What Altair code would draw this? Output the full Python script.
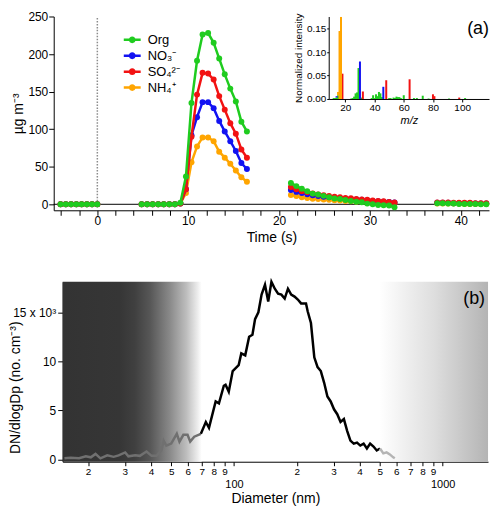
import altair as alt
import pandas as pd

FONT = "Liberation Sans"

# ---------------- Panel (a): time series ----------------
SPECIES = ["Org", "NO₃⁻", "SO₄²⁻", "NH₄⁺"]
COLORS = ["#1fcc1f", "#1212f2", "#f21212", "#ffa500"]

T1 = [-4.05, -3.47, -2.89, -2.31, -1.73, -1.15, -0.58, 0.0]
T2 = [4.87, 5.48, 6.09, 6.70, 7.31, 7.92, 8.53, 9.14, 9.75, 10.36, 10.97, 11.58,
      12.19, 12.80, 13.41, 14.02, 14.63, 15.24, 15.85, 16.46]
T3 = [21.3, 21.9, 22.5, 23.1, 23.7, 24.3, 24.9, 25.5, 26.1, 26.7, 27.3, 27.9,
      28.5, 29.1, 29.7, 30.3, 30.9, 31.5, 32.1, 32.7]
T4 = [37.4, 38.0, 38.6, 39.2, 39.8, 40.4, 41.0, 41.6, 42.2, 42.8]

ORG_1 = [0, 0, 0, 0, 0, 0, 0, 0]
ORG_2 = [0, 0, 0, 0, 0, 0, 0, 2, 37, 135, 191, 226, 228, 215, 194, 173, 154, 137, 110, 97]
ORG_3 = [28.5, 24.2, 20.7, 17.3, 14.2, 13, 11.2, 9.5, 7.8, 6.9, 5.6, 4.3, 3.5, 2.6, 0.9, 0, -0.9, -1.3, -1.7, -3.9]
ORG_4 = [1.5, 1.5, 1, 1, 0.5, 0.5, 0.5, 0.5, 0, 0]

NO3_1 = [0, 0, 0, 0, 0, 0, 0, 0]
NO3_2 = [0, 0, 0, 0, 0, 0, 0, 1, 20, 92, 116, 136, 136, 128, 111, 97, 84, 71, 55, 47]
NO3_3 = [19, 16.5, 15, 13.5, 12, 11, 10, 9.5, 9, 8, 7.5, 7, 6.5, 6, 5, 4.5, 4, 3.5, 3, 2.5]
NO3_4 = [2, 2, 2, 1.5, 1.5, 1.5, 1.5, 1, 1, 1]

SO4_1 = [0, 0, 0, 0, 0, 0, 0, 0]
SO4_2 = [0, 0, 0, 0, 0, 0, 0, 1, 20, 90, 146, 175, 174, 166, 144, 126, 108, 94, 73, 62]
SO4_3 = [23, 20, 17.5, 16, 14.5, 13, 12, 11, 10, 9.5, 8.5, 8, 7, 6.5, 6, 5, 4.5, 4, 3, 2.5]
SO4_4 = [2.5, 2.5, 2.5, 2, 2, 2, 2, 1.5, 1.5, 1.5]

NH4_1 = [0, 0, 0, 0, 0, 0, 0, 0]
NH4_2 = [0, 0, 0, 0, 0, 0, 0, 1, 15, 56, 77, 89, 89, 84, 70, 62, 54, 45, 36, 30]
NH4_3 = [12.5, 11, 9.5, 8.5, 7.5, 7, 6.5, 6, 5.5, 5, 4.5, 4, 3.5, 3.5, 3, 2.5, 2, 2, 1.5, 1.3]
NH4_4 = [1, 1, 1, 1, 1, 0.5, 0.5, 0.5, 0.5, 0.5]

# inset mass spectrum (m/z, normalized intensity)
MZ_ORG = [12, 13, 14, 15, 24, 25, 26, 27, 28, 29, 31, 38, 39, 40, 41, 42, 43, 44, 45,
          50, 51, 53, 54, 55, 56, 57, 58, 60, 67, 69, 73, 77, 91, 102]
I_ORG = [0.002, 0.002, 0.003, 0.008, 0.001, 0.002, 0.005, 0.012, 0.014, 0.066, 0.003,
         0.002, 0.008, 0.002, 0.010, 0.006, 0.015, 0.012, 0.004, 0.002, 0.002, 0.003,
         0.002, 0.005, 0.004, 0.004, 0.002, 0.008, 0.002, 0.002, 0.007, 0.001, 0.001, 0.002]
MZ_NO3 = [14, 30, 46]
I_NO3 = [0.003, 0.080, 0.026]
MZ_SO4 = [18, 32, 48, 64, 80, 81, 98]
I_SO4 = [0.054, 0.016, 0.040, 0.042, 0.010, 0.006, 0.003]
MZ_NH4 = [15, 16, 17]
I_NH4 = [0.007, 0.145, 0.175]

# ---------------- Panel (b): size distribution ----------------
D_L = [15.4, 16.5, 18.1, 19.5, 20.6, 21.7, 22.9, 24.7, 26.5, 28.0, 30.1, 31.2, 33.6, 35.4,
       38.1, 40.3, 42.5, 44.9, 46.0, 47.4, 50.0, 53.2, 54.8, 57.2, 59.9, 61.7, 64.5, 69.4]
N_L = [0.1, 0.15, 0.1, 0.3, 0.2, 0.55, 0.1, 0.4, 0.25, 0.4, 0.7, 0.3, 0.4, 0.35,
       0.8, 0.35, 0.35, 0.9, 1.9, 1.4, 1.6, 2.6, 1.8, 2.5, 2.5, 1.8, 2.3, 2.6]
D_M = [69.4, 73.3, 75.9, 81.7, 84.7, 89.4, 91.1, 94.4, 98.6, 105.3, 108.4, 113.2, 118.2,
       122.6, 126.2, 130.9, 135.6, 140.8, 145.9, 151.2, 156.9, 162.7, 168.7, 175.0, 181.4,
       188.0, 195.1, 202.3, 209.7, 221.4, 225.5, 233.8, 242.6, 251.5, 260.7, 270.5, 280.4,
       290.7, 301.6, 312.6, 324.1, 336.3, 348.6, 361.4, 375.0, 388.7, 403.0, 418.1, 433.5,
       449.3, 466.3, 483.3, 501.0]
N_M = [2.6, 3.8, 3.2, 5.9, 5.7, 7.5, 7.6, 6.9, 9.0, 9.6, 10.8, 10.6, 12.5, 12.7, 14.3, 15.0,
       16.8, 17.8, 16.1, 18.1, 17.4, 16.9, 16.8, 16.4, 17.4, 16.8, 16.6, 16.3, 15.9, 15.9,
       15.1, 13.9, 10.4, 9.4, 9.0, 7.8, 6.4, 5.9, 5.1, 4.6, 3.8, 4.1, 2.9, 1.9, 1.6, 1.7,
       1.4, 1.6, 1.1, 1.6, 1.3, 0.9, 1.1]
D_R = [501.0, 519.8, 538.8, 558.5, 579.7, 589.8]
N_R = [1.1, 0.6, 0.7, 0.5, 0.2, 0.1]

SHADE_LEFT = [15.1, 70.0]
SHADE_RIGHT = [500.0, 1650.0]

# ---------------- build tables ----------------
rows = []
series = {
    "Org": [ORG_1, ORG_2, ORG_3, ORG_4],
    "NO₃⁻": [NO3_1, NO3_2, NO3_3, NO3_4],
    "SO₄²⁻": [SO4_1, SO4_2, SO4_3, SO4_4],
    "NH₄⁺": [NH4_1, NH4_2, NH4_3, NH4_4],
}
for sp, segs in series.items():
    for i, (ts, vs) in enumerate(zip([T1, T2, T3, T4], segs)):
        for t, v in zip(ts, vs):
            rows.append({"species": sp, "seg": i, "t": t, "v": v})
df_a = pd.DataFrame(rows)

ms_rows = []
for sp, mzs, ints in [("Org", MZ_ORG, I_ORG), ("NO₃⁻", MZ_NO3, I_NO3),
                      ("SO₄²⁻", MZ_SO4, I_SO4), ("NH₄⁺", MZ_NH4, I_NH4)]:
    for m, i in zip(mzs, ints):
        ms_rows.append({"species": sp, "mz": m, "inten": i})
df_ms = pd.DataFrame(ms_rows)

b_rows = []
for seg, ds, ns in [("L", D_L, N_L), ("M", D_M, N_M), ("R", D_R, N_R)]:
    for d, n in zip(ds, ns):
        b_rows.append({"seg": seg, "d": d, "k": n})
df_b = pd.DataFrame(b_rows)

# ---------------- panel (a) ----------------
WA, HA = 438, 195
xa_scale = alt.Scale(domain=[-4.8, 43.1], nice=False, zero=False)
ya_scale = alt.Scale(domain=[-8, 250], nice=False, zero=False)
xa_axis = alt.Axis(orient="bottom", values=list(range(-4, 43, 2)),
                   labelExpr="datum.value % 10 === 0 ? datum.label : ''",
                   tickSize=5, labelPadding=0, labelFontSize=12,
                   title="Time (s)", titleFontSize=14, titlePadding=4)
ya_axis = alt.Axis(orient="left", values=[0, 50, 100, 150, 200, 250], tickSize=5,
                   labelPadding=1, labelFontSize=12, title="µg m⁻³", titleFontSize=14,
                   titlePadding=2)


def XA(axis=None):
    return alt.X("t:Q", scale=xa_scale, axis=axis)


def YA(axis=None):
    return alt.Y("v:Q", scale=ya_scale, axis=axis)


color_scale = alt.Scale(domain=SPECIES, range=COLORS)
SYMBOL = ("M-1,-0.15 L1,-0.15 L1,0.15 L-1,0.15 Z "
          "M-0.4,0 A0.4,0.4 0 1,1 0.4,0 A0.4,0.4 0 1,1 -0.4,0 Z")
legend_a = alt.Legend(orient="none", legendX=70.5, legendY=15, title=None,
                      symbolType=SYMBOL, symbolSize=289, symbolStrokeWidth=0,
                      symbolOpacity=1, labelFontSize=13, labelOffset=7,
                      rowPadding=0, padding=0, labelColor="black")

# inset (drawn first; it also defines the filled legend symbols)
xi_scale = alt.Scale(domain=[12, 115], range=[276.7, 438], nice=False, zero=False)
yi_scale = alt.Scale(domain=[0, 0.176], range=[83, 0], nice=False, zero=False)
inset = alt.Chart(df_ms).mark_bar(size=2).encode(
    x=alt.X("mz:Q", scale=xi_scale,
            axis=alt.Axis(orient="bottom", offset=83 - HA, values=[20, 40, 60, 80, 100],
                          tickSize=3, labelPadding=1, labelFontSize=10, title="m/z",
                          titleFontStyle="italic", titleFontSize=11, titlePadding=2)),
    y=alt.Y("inten:Q", scale=yi_scale,
            axis=alt.Axis(orient="left", offset=-276.7, values=[0, 0.05, 0.10, 0.15],
                          format=".2f", tickSize=2, labelPadding=1, labelFontSize=10,
                          title="Normalized intensity", titleFontSize=10, titlePadding=3)),
    color=alt.Color("species:N", scale=color_scale, legend=legend_a))

zero_line = alt.Chart(pd.DataFrame({"v": [0]})).mark_rule(
    color="black", strokeWidth=1).encode(y=YA(ya_axis))
start_line = alt.Chart(pd.DataFrame({"t": [0], "v": [0], "v2": [250]})).mark_rule(
    color="#8c8c8c", strokeWidth=1.5, strokeDash=[1.5, 1.5]).encode(
    x=XA(xa_axis), y=YA(), y2="v2:Q")

layers = [inset, zero_line, start_line]
for sp in ["NH₄⁺", "NO₃⁻", "SO₄²⁻", "Org"]:
    base = alt.Chart(df_a[df_a.species == sp])
    layers.append(base.mark_line(strokeWidth=2.5).encode(
        x=XA(), y=YA(), detail="seg:N",
        color=alt.Color("species:N", scale=color_scale)))
    layers.append(base.mark_circle(size=36, opacity=1).encode(
        x=XA(), y=YA(),
        color=alt.Color("species:N", scale=color_scale)))

tag_a = alt.Chart(pd.DataFrame({"lab": ["(a)"]})).mark_text(
    fontSize=18, align="center", baseline="middle", color="black").encode(
    x=alt.value(427), y=alt.value(13), text="lab:N")
layers.append(tag_a)

panel_a = alt.layer(*layers).resolve_scale(
    x="independent", y="independent").properties(width=WA, height=HA)

# ---------------- panel (b) ----------------
# the panel group is aligned with panel (a); the plot itself starts 9 px further right
B_SHIFT = 9
WB, HB = 437, 181
xb_scale = alt.Scale(type="log", domain=[15.1, 1650], range=[B_SHIFT, WB], nice=False)
yb_scale = alt.Scale(domain=[-0.25, 18.1], nice=False, zero=False)
xb_axis = alt.Axis(
    orient="bottom",
    values=[20, 30, 40, 50, 60, 70, 80, 90, 100, 200, 300, 400, 500, 600, 700, 800, 900, 1000],
    labelExpr=("datum.value == 100 ? ['', '100'] : datum.value == 1000 ? ['', '1000'] : "
               "(datum.value < 100 ? format(datum.value / 10, 'd') : format(datum.value / 100, 'd'))"),
    labelFontSize=alt.ConditionalAxisNumber(
        condition={"test": "datum.value == 100 || datum.value == 1000", "value": 11},
        value=10),
    labelOverlap=False, labelLineHeight=12, tickSize=4, labelPadding=1,
    title="Diameter (nm)", titleFontSize=14, titlePadding=2)
yb_axis = alt.Axis(orient="left", offset=-B_SHIFT, values=[0, 5, 10, 15],
                   labelExpr="datum.value === 15 ? '15 x 10³' : datum.label",
                   tickSize=5, labelPadding=2, labelFontSize=12,
                   title="DN/dlogDp (no. cm⁻³)", titleFontSize=14,
                   titleX=-47, titleY=106, titleAngle=270,
                   titleAlign="center", titleBaseline="middle")

grad_left = alt.LinearGradient(
    gradient="linear", x1=0, x2=1, y1=0, y2=0,
    stops=[alt.GradientStop(offset=0, color="#333333"),
           alt.GradientStop(offset=0.41, color="#363636"),
           alt.GradientStop(offset=0.52, color="#404040"),
           alt.GradientStop(offset=0.63, color="#575757"),
           alt.GradientStop(offset=0.77, color="#898989"),
           alt.GradientStop(offset=0.89, color="#bdbdbd"),
           alt.GradientStop(offset=0.97, color="#ececec"),
           alt.GradientStop(offset=1, color="#ffffff")])
grad_right = alt.LinearGradient(
    gradient="linear", x1=0, x2=1, y1=0, y2=0,
    stops=[alt.GradientStop(offset=0, color="#ffffff"),
           alt.GradientStop(offset=0.5, color="#dedede"),
           alt.GradientStop(offset=1, color="#b4b4b4")])

rect_left = alt.Chart(pd.DataFrame({"d0": [SHADE_LEFT[0]], "d1": [SHADE_LEFT[1]]})).mark_rect(
    color=grad_left).encode(
    x=alt.X("d0:Q", scale=xb_scale, axis=xb_axis), x2="d1:Q")
rect_right = alt.Chart(pd.DataFrame({"d0": [SHADE_RIGHT[0]], "d1": [SHADE_RIGHT[1]]})).mark_rect(
    color=grad_right).encode(
    x=alt.X("d0:Q", scale=xb_scale, axis=xb_axis), x2="d1:Q")
line_b = alt.Chart(df_b).mark_line(strokeWidth=2.5).encode(
    x=alt.X("d:Q", scale=xb_scale, axis=xb_axis),
    y=alt.Y("k:Q", scale=yb_scale, axis=yb_axis),
    color=alt.Color("seg:N", scale=alt.Scale(domain=["L", "M", "R"],
                                             range=["#707070", "#000000", "#b4b4b4"]),
                    legend=None))
tag_b = alt.Chart(pd.DataFrame({"lab": ["(b)"]})).mark_text(
    fontSize=18, align="center", baseline="middle", color="black").encode(
    x=alt.value(423), y=alt.value(17), text="lab:N")

panel_b = alt.layer(rect_left, rect_right, line_b, tag_b).properties(width=WB, height=HB)

chart = alt.ConcatChart(concat=[panel_a, panel_b], columns=1, align="none", spacing=31
                        ).resolve_scale(color="independent").properties(
    padding={"left": 0, "top": 0, "right": 0, "bottom": 0}
).configure(font=FONT).configure_axis(
    grid=False, domainColor="black", tickColor="black", labelColor="black",
    titleColor="black", titleFontWeight="normal", labelFont=FONT, titleFont=FONT
).configure_legend(labelFont=FONT).configure_view(stroke="transparent")

chart.save("out.html", embed_options={"renderer": "svg", "actions": False})
